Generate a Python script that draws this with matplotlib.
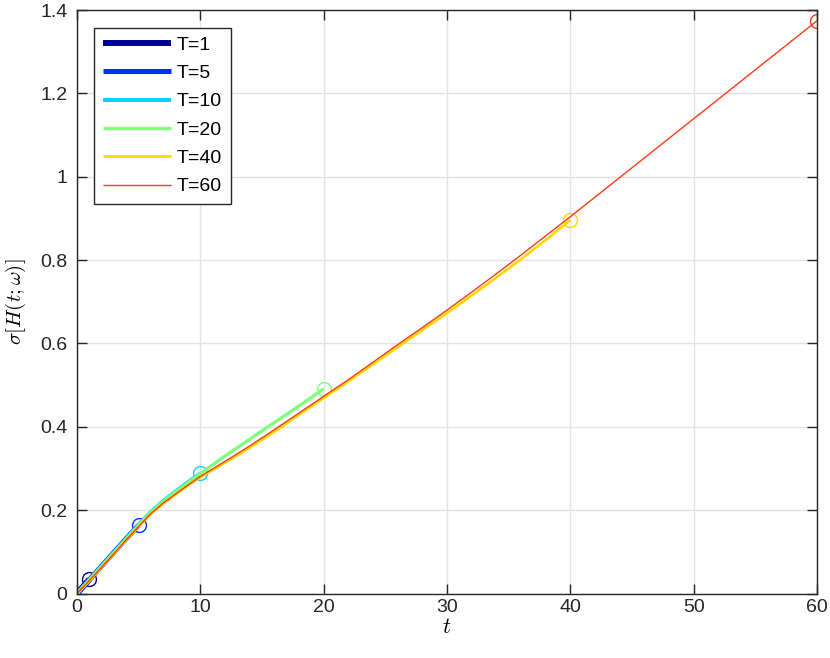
import numpy as np
import matplotlib.pyplot as plt
from matplotlib.ticker import FormatStrFormatter

plt.rcParams['font.family'] = ['Liberation Sans', 'DejaVu Sans']
plt.rcParams['mathtext.fontset'] = 'cm'

# Curves sigma[H(t;w)] for different horizons T
t_1 = [0, 0.5, 1]
s_1 = [0, 0.017, 0.034]

t_5 = [0, 1, 2, 3, 4, 5]
s_5 = [0, 0.033, 0.066, 0.099, 0.132, 0.164]

t_10 = [0, 1, 2, 3, 4, 5, 6, 7, 8, 9, 10]
s_10 = [0, 0.033, 0.066, 0.099, 0.132, 0.165, 0.196, 0.222, 0.245, 0.267, 0.288]

t_20 = [0, 1, 2, 3, 4, 5, 6, 7, 8, 9, 10, 12, 14, 16, 18, 20]
s_20 = [0, 0.032, 0.065, 0.098, 0.131, 0.164, 0.195, 0.221, 0.244, 0.266, 0.288,
        0.330, 0.370, 0.410, 0.450, 0.491]

t_40 = [0, 1, 2, 3, 4, 5, 6, 7, 8, 9, 10, 12, 14, 16, 18, 20, 22, 24, 26, 28, 30,
        32, 34, 36, 38, 40]
s_40 = [0, 0.031, 0.063, 0.096, 0.129, 0.161, 0.192, 0.216, 0.238, 0.259, 0.279,
        0.314, 0.350, 0.388, 0.429, 0.469, 0.509, 0.550, 0.591, 0.632, 0.673,
        0.715, 0.758, 0.802, 0.848, 0.896]

t_60 = [0, 1, 2, 3, 4, 5, 6, 7, 8, 9, 10, 12, 14, 16, 18, 20, 22, 24, 26, 28, 30,
        32, 34, 36, 38, 40, 42, 44, 46, 48, 50, 52, 54, 56, 58, 60]
s_60 = [0, 0.031, 0.063, 0.096, 0.129, 0.161, 0.192, 0.217, 0.239, 0.260, 0.281,
        0.317, 0.354, 0.393, 0.433, 0.473, 0.513, 0.555, 0.597, 0.638, 0.680,
        0.723, 0.767, 0.812, 0.858, 0.904, 0.951, 0.998, 1.045, 1.092, 1.139,
        1.186, 1.233, 1.280, 1.327, 1.374]

labels = ['T=1', 'T=5', 'T=10', 'T=20', 'T=40', 'T=60']
colors = ['#00008C', '#0030FA', '#00D4FF', '#80FF80', '#FFD800', '#FF3A14']
widths = [4.3, 3.6, 2.9, 2.4, 1.9, 1.0]
curves = [(t_1, s_1), (t_5, s_5), (t_10, s_10), (t_20, s_20), (t_40, s_40), (t_60, s_60)]

fig = plt.figure(figsize=(8.3, 6.58), dpi=100)
ax = fig.add_axes([0.0928, 0.098, 0.8915, 0.8868])

for (tt, ss), lab, c, lw in zip(curves, labels, colors, widths):
    ax.plot(tt, ss, color=c, lw=lw, label=lab, solid_capstyle='butt')
    ax.plot(tt[-1], ss[-1], 'o', ms=10, mfc='none', mec=c, mew=1.0)

ax.set_xlim(0, 60)
ax.set_ylim(0, 1.4)
ax.set_xticks(np.arange(0, 61, 10))
ax.set_yticks(np.arange(0, 1.41, 0.2))
ax.yaxis.set_major_formatter(FormatStrFormatter('%g'))
ax.grid(True, color='#E3E3E3', lw=1.0)
ax.set_axisbelow(True)
ax.tick_params(direction='in', length=7, width=1, colors='#262626', labelsize=14,
               top=True, right=True)
ax.tick_params(axis='y', pad=7)
ax.tick_params(axis='x', pad=4)
for sp in ax.spines.values():
    sp.set_color('#262626')
    sp.set_linewidth(1.0)

ax.set_xlabel(r'$t$', fontsize=16, labelpad=1)
ax.set_ylabel(r'$\sigma[H(t;\omega)]$', fontsize=15, labelpad=9)

leg = ax.legend(loc='upper left', bbox_to_anchor=(0.023, 0.970), borderaxespad=0,
                fontsize=14, frameon=True, fancybox=False, framealpha=1,
                edgecolor='#262626', handlelength=3.5, labelspacing=0.55,
                handletextpad=0.3, borderpad=0.45)
leg.get_frame().set_linewidth(1.0)

fig.savefig('out.png', dpi=100)
